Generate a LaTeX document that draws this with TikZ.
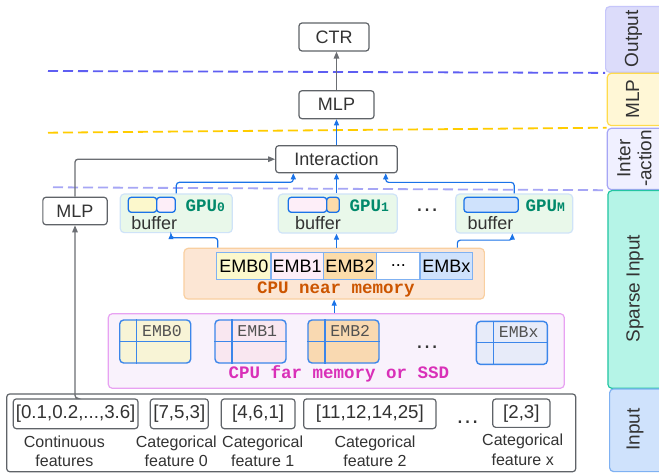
\documentclass[tikz,border=0pt]{standalone}
\usepackage{fontspec}
\setmainfont{Liberation Sans}
\newfontfamily\monof{Liberation Mono}
\usetikzlibrary{arrows.meta,calc}

\definecolor{boxgray}{HTML}{5F6368}
\definecolor{txt}{HTML}{333333}
\definecolor{arrgray}{HTML}{6B6E73}
\definecolor{arrblue}{HTML}{1A73E8}
\definecolor{gpufill}{HTML}{E9F8EA}
\definecolor{gpuedge}{HTML}{CFE3F8}
\definecolor{gputext}{HTML}{00896B}
\definecolor{nearfill}{HTML}{FCE6D4}
\definecolor{nearedge}{HTML}{F9CFA0}
\definecolor{neartext}{HTML}{CC5500}
\definecolor{farfill}{HTML}{F9F2FC}
\definecolor{faredge}{HTML}{E8A2F2}
\definecolor{fartext}{HTML}{D930B8}
\definecolor{celledge}{HTML}{7FB1F2}
\definecolor{tbledge}{HTML}{3C86EA}
\definecolor{cyellow}{HTML}{FCF8CC}
\definecolor{cpink}{HTML}{FDEEF8}
\definecolor{corange}{HTML}{FCDCAA}
\definecolor{cblue}{HTML}{CFE2FC}
\definecolor{tyellow}{HTML}{F8F4D6}
\definecolor{tpink}{HTML}{F9E7F0}
\definecolor{torange}{HTML}{F9D9B1}
\definecolor{tblue}{HTML}{E7EBF9}
\definecolor{sepblue}{HTML}{5E5EF2}
\definecolor{sepyellow}{HTML}{FFCC00}
\definecolor{seplav}{HTML}{A6A6F5}
\definecolor{poutfill}{HTML}{DCDCFA}
\definecolor{pmintfill}{HTML}{B5F4E7}
\definecolor{pmintedge}{HTML}{22C5A2}

\begin{document}
\begin{tikzpicture}[x=1pt,y=-1pt,
  sbox/.style={draw=boxgray, fill=white, rounded corners=3pt, line width=1.2pt,
    text=txt, inner sep=0pt, font=\fontsize{18}{20}\selectfont},
  garrow/.style={draw=arrgray, line width=1.3pt, rounded corners=3pt,
    -{Triangle[length=7pt,width=5.5pt]}},
  barrow/.style={draw=arrblue, line width=1.2pt, rounded corners=3pt,
    -{Triangle[length=6pt,width=5pt]}},
  sepline/.style={line width=1.8pt, dash pattern=on 10pt off 5pt},
  gpubox/.style={draw=gpuedge, fill=gpufill, rounded corners=4pt, line width=1.2pt,
    inner sep=0pt},
  bufseg/.style={draw=arrblue, line width=1.3pt, rounded corners=3pt},
  gpulbl/.style={text=gputext, inner sep=0pt, anchor=base west,
    font=\monof\bfseries\fontsize{17.5}{20}\selectfont},
  buftxt/.style={text=txt, inner sep=0pt, anchor=base west,
    font=\fontsize{18}{20}\selectfont},
  cell/.style={draw=celledge, line width=1.4pt, inner sep=0pt, minimum height=26.6pt,
    text=black, font=\fontsize{18}{20}\selectfont},
  tbl/.style={draw=tbledge, line width=1.4pt, rounded corners=4pt, inner sep=0pt,
    minimum width=71pt, minimum height=43pt, anchor=north west},
  tbltxt/.style={text=txt!85, inner sep=0pt, font=\monof\fontsize{16.5}{18}\selectfont},
  memtxt/.style={inner sep=0pt, anchor=base, font=\monof\bfseries\fontsize{17.5}{20}\selectfont},
  brk/.style={sbox, font=\fontsize{18.7}{20}\selectfont},
  lbl/.style={text=txt, align=center, inner sep=0pt, anchor=base,
    font=\fontsize{16}{19.3}\selectfont},
  dots/.style={text=txt, inner sep=0pt, font=\fontsize{24}{24}\selectfont},
  panel/.style={rounded corners=4pt, line width=1.2pt, inner sep=0pt, anchor=north west},
  ptext/.style={rotate=90, text=txt, align=center, inner sep=0pt,
    font=\fontsize{19}{21}\selectfont}
]
\clip (0,0) rectangle (659,473);
\fill[white] (0,0) rectangle (659,473);

% ---------- layer panels on the right ----------
\node[panel, fill=poutfill, draw=poutfill!90!blue, minimum width=67pt, minimum height=65.7pt] (pout) at (605,6) {};
\node[panel, fill=sepyellow!16, draw=sepyellow!70, minimum width=65.3pt, minimum height=52.3pt] (pmlp) at (606.7,72.7) {};
\node[panel, fill=blue!6, draw=seplav, minimum width=65.3pt, minimum height=61.3pt] (pint) at (606.7,127.7) {};
\node[panel, fill=pmintfill, draw=pmintedge, minimum width=64.7pt, minimum height=197.7pt] (psp) at (607.3,190) {};
\node[panel, fill=cblue, draw=celledge, minimum width=63pt, minimum height=82.7pt] (pin) at (609,388.3) {};
\node[ptext] at (633.5,38.8) {Output};
\node[ptext] at (632.7,98.9) {MLP};
\node[ptext] at (634.5,158.4) {Inter\\-action};
\node[ptext] at (635,288.8) {Sparse Input};
\node[ptext] at (635,429.6) {Input};

% ---------- layer separators ----------
\draw[sepline, sepblue] (48,71) -- (pout.south west);
\draw[sepline, sepyellow] (48,132.7) -- (pint.north west);
\draw[sepline, seplav] (53,187.3) -- (pint.south west);

% ---------- top stack ----------
\node[sbox, minimum width=70pt, minimum height=28pt] (ctr) at (334,37) {CTR};
\node[sbox, minimum width=75pt, minimum height=28pt] (mlp) at (336.5,104.7) {MLP};
\node[sbox, minimum width=121.6pt, minimum height=27pt] (inter) at (336.5,159.2) {Interaction};
\node[sbox, minimum width=64.3pt, minimum height=27.4pt] (mlpl) at (75,211) {MLP};

\draw[garrow] (mlp.north) -- (mlp.north |- ctr.south);
\draw[barrow] (inter.north) -- (mlp.south);
\draw[garrow] (mlpl.north) |- (inter.west);

% ---------- GPU buffers ----------
\node[gpubox, minimum width=112pt, minimum height=38.7pt] (g0) at (176.3,213.3) {};
\node[gpubox, minimum width=119pt, minimum height=39pt] (g1) at (337.8,213.6) {};
\node[gpubox, minimum width=117pt, minimum height=39pt] (gm) at (514.2,213.5) {};

\filldraw[bufseg, fill=cyellow] (128.3,197.3) rectangle (156.7,212.3);
\filldraw[bufseg, fill=cpink] (156.7,197.3) rectangle (175.3,212.3);
\filldraw[bufseg, fill=cpink] (288.3,197.3) rectangle (326.7,212.3);
\filldraw[bufseg, fill=corange] (326.7,197.3) rectangle (339.3,212.3);
\filldraw[bufseg, fill=cblue] (464,197.3) rectangle (518.3,212.3);

\node[gpulbl] (t0) at (185.5,211.7) {GPU{\fontsize{13}{14}\selectfont 0}};
\node[gpulbl] (t1) at (349.5,211.7) {GPU{\fontsize{13}{14}\selectfont 1}};
\node[gpulbl] (tm) at (525.5,211.7) {GPU{\fontsize{13}{14}\selectfont M}};
\node[buftxt] (b0) at (131.2,230) {buffer};
\node[buftxt] (b1) at (295,230) {buffer};
\node[buftxt] (bm) at (467.5,230) {buffer};
\node[dots] (gdots) at (427,210) {…};

\draw[barrow] (g0.north) -- ++(0,-11) -| ([xshift=-43.2pt]inter.south);
\draw[barrow] (inter.south |- g1.north) -- (inter.south);
\draw[barrow] (gm.north) -- ++(0,-11) -| ([xshift=49.2pt]inter.south);

% ---------- CPU near memory ----------
\node[draw=nearedge, fill=nearfill, line width=1.2pt, rounded corners=4pt,
      minimum width=300.3pt, minimum height=50.7pt, inner sep=0pt] (near) at (334.2,273.7) {};
\node[cell, fill=cyellow, minimum width=54.3pt] (e0) at (243.85,266) {EMB0};
\node[cell, fill=cpink, minimum width=52.3pt] (e1) at (297.15,266) {EMB1};
\node[cell, fill=corange, minimum width=53.4pt] (e2) at (350,266) {EMB2};
\node[cell, fill=white, minimum width=43.3pt] (ed) at (398.35,266) {...};
\node[cell, fill=cblue, minimum width=52.7pt] (ex) at (446.35,266) {EMBx};
\node[memtxt, text=neartext] (nearlbl) at (336,294) {CPU near memory};

\draw[barrow] ($(near.north west)+(34.3,0)$) -- ++(0,-10) -| ([xshift=-5.3pt]g0.south);
\draw[barrow] (near.north -| inter.south) -- (inter.south |- g1.south);
\draw[barrow] ($(near.north east)+(-27.6,0)$) -- ++(0,-7.6) -| ([xshift=-1.9pt]gm.south);

% ---------- CPU far memory or SSD ----------
\node[draw=faredge, fill=farfill, line width=1.2pt, rounded corners=4pt,
      minimum width=456pt, minimum height=74.6pt, inner sep=0pt] (far) at (336.3,351) {};
\foreach \tx/\ty/\tc/\tl/\tn in {119/319.3/tyellow/EMB0/f0, 214.3/319.3/tpink/EMB1/f1,
                                 307.3/319.3/torange/EMB2/f2, 475.7/320.7/tblue/EMBx/fx}{
  \node[tbl, fill=\tc] (\tn) at (\tx,\ty) {};
  \draw[draw=tbledge, line width=1.4pt] ($(\tn.north west)+(17.7,0)$) -- ($(\tn.south west)+(17.7,0)$);
  \draw[draw=tbledge, line width=1.4pt] ($(\tn.north west)+(0,22)$) -- ($(\tn.north east)+(0,22)$);
  \node[tbltxt] at ($(\tn.north west)+(43,11.5)$) {\tl};
}
\node[dots] (fdots) at (427,347) {…};
\node[memtxt, text=fartext] (farlbl) at (339,378.5) {CPU far memory or SSD};

\draw[barrow] (near.south |- far.north) -- (near.south);

% ---------- input features ----------
\node[draw=boxgray, fill=white, line width=1.2pt, rounded corners=3pt,
      minimum width=569pt, minimum height=77.7pt, inner sep=0pt] (inp) at (291.2,432.85) {};
\node[brk, minimum width=124.7pt, minimum height=29.7pt] (c0) at (75.65,413.8) {[0.1,0.2,...,3.6]};
\node[brk, minimum width=58pt, minimum height=29.7pt] (k0) at (179.3,413.8) {[7,5,3]};
\node[brk, minimum width=73.7pt, minimum height=29.7pt] (k1) at (258.15,413.8) {[4,6,1]};
\node[brk, minimum width=132.3pt, minimum height=29.7pt] (k2) at (369.85,413.8) {[11,12,14,25]};
\node[brk, minimum width=57.3pt, minimum height=28.3pt] (kx) at (521.35,413.2) {[2,3]};
\node[dots] (idots) at (467.5,422) {…};

% two-line labels, placed by the baseline of their last line
\node[lbl] (lc) at (64.4,466.7) {Continuous\\features};
\node[lbl] (l0) at (176.3,466.7) {Categorical\\feature 0};
\node[lbl] (l1) at (262.7,466.7) {Categorical\\feature 1};
\node[lbl] (l2) at (375,466.7) {Categorical\\feature 2};
\node[lbl] (lx) at (522.7,465) {Categorical\\feature x};

\draw[garrow] (c0.north) -- (c0.north -| mlpl.south) -- (mlpl.south);
\end{tikzpicture}
\end{document}
